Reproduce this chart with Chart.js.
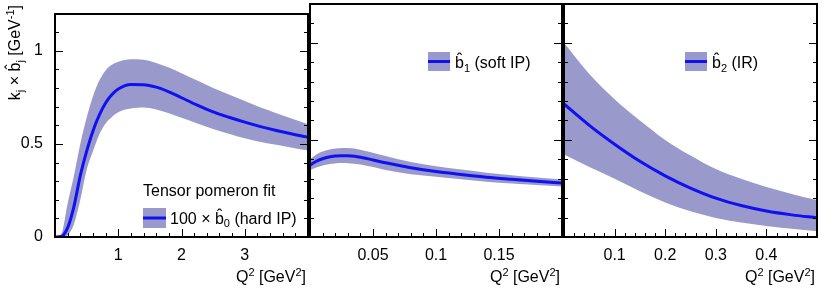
<!DOCTYPE html>
<html>
<head>
<meta charset="utf-8">
<script src="https://cdn.jsdelivr.net/npm/chart.js@4.4.0/dist/chart.umd.min.js"></script>
<style>
  html, body { margin: 0; padding: 0; background: #fff; }
  #wrap { position: relative; width: 822px; height: 289px; }
  #wrap canvas { position: absolute; left: 0; top: 0; }
</style>
</head>
<body>
<div id="wrap">
  <canvas id="c1" width="822" height="289"></canvas>
  <canvas id="c2" width="822" height="289"></canvas>
  <canvas id="c3" width="822" height="289"></canvas>
</div>
<script>
// panel 1: 100 x b0 (hard IP)
const q2Hard = [0, 0.1, 0.2, 0.3, 0.4, 0.5, 0.6, 0.7, 0.8, 0.9, 1.0, 1.2, 1.4, 1.6, 1.8, 2.0, 2.25, 2.5, 2.75, 3.0, 3.25, 3.5, 3.75, 4.0];
const b0Mid = [0, 0.003, 0.05, 0.165, 0.33, 0.46, 0.57, 0.655, 0.72, 0.765, 0.795, 0.819, 0.818, 0.805, 0.78, 0.748, 0.708, 0.672, 0.643, 0.617, 0.593, 0.572, 0.553, 0.536];
const b0Up = [0, 0.015, 0.18, 0.33, 0.5, 0.64, 0.755, 0.84, 0.895, 0.925, 0.942, 0.955, 0.952, 0.935, 0.91, 0.88, 0.84, 0.80, 0.765, 0.73, 0.695, 0.665, 0.635, 0.605];
const b0Low = [0, 0, 0.01, 0.07, 0.2, 0.36, 0.46, 0.55, 0.61, 0.645, 0.67, 0.69, 0.695, 0.685, 0.665, 0.64, 0.61, 0.58, 0.555, 0.53, 0.51, 0.495, 0.48, 0.465];

// panel 2: b1 (soft IP)
const q2Soft = [0, 0.005, 0.01, 0.015, 0.02, 0.025, 0.03, 0.04, 0.05, 0.06, 0.08, 0.1, 0.12, 0.14, 0.16, 0.18, 0.2];
const b1Mid = [0.37, 0.39, 0.403, 0.412, 0.417, 0.419, 0.418, 0.411, 0.397, 0.382, 0.357, 0.337, 0.322, 0.308, 0.297, 0.287, 0.278];
const b1Up = [0.40, 0.425, 0.44, 0.45, 0.456, 0.459, 0.458, 0.45, 0.434, 0.417, 0.386, 0.364, 0.347, 0.331, 0.318, 0.306, 0.296];
const b1Low = [0.345, 0.358, 0.368, 0.375, 0.379, 0.381, 0.38, 0.374, 0.36, 0.345, 0.323, 0.31, 0.297, 0.285, 0.276, 0.268, 0.26];

// panel 3: b2 (IR)
const q2IR = [0, 0.05, 0.1, 0.15, 0.2, 0.25, 0.3, 0.35, 0.4, 0.45, 0.5];
const b2Mid = [0.685, 0.575, 0.478, 0.39, 0.315, 0.252, 0.2, 0.162, 0.134, 0.114, 0.099];
const b2Up = [1.0, 0.84, 0.71, 0.6, 0.5, 0.42, 0.35, 0.3, 0.257, 0.222, 0.19];
const b2Low = [0.425, 0.36, 0.3, 0.235, 0.178, 0.132, 0.098, 0.075, 0.057, 0.042, 0.03];

// tick labels
const yTicks = [0, 0.5, 1];
const xTicksHard = [1, 2, 3];
const xTicksSoft = [0.05, 0.1, 0.15];
const xTicksIR = [0.1, 0.2, 0.3, 0.4];

const FONT = '"Liberation Sans", Arial, Helvetica, sans-serif';
const BAND = 'rgb(153,153,204)';
const LINE = 'rgb(16,16,240)';
const HAT_B = 'b\u0302';

function pts(xs, ys) {
    return xs.map((x, i) => ({ x: x, y: ys[i] }));
}

// text with sub/superscripts
function drawRich(ctx, parts, x, y, size, align) {
    const small = Math.round(size * 0.68);
    let w = 0;
    parts.forEach(p => {
        ctx.font = ((p.sub || p.sup) ? small : size) + 'px ' + FONT;
        w += ctx.measureText(p.t).width;
    });
    let cx = align === 'right' ? x - w : x;
    parts.forEach(p => {
        ctx.font = ((p.sub || p.sup) ? small : size) + 'px ' + FONT;
        const dy = p.sub ? size * 0.22 : (p.sup ? -size * 0.4 : 0);
        ctx.fillText(p.t, cx, y + dy);
        cx += ctx.measureText(p.t).width;
    });
}

const framePlugin = {
    id: 'frame',
    afterDatasetsDraw(chart, args, opts) {
        const ctx = chart.ctx;
        const xs = chart.scales.x, ys = chart.scales.y;
        const L = Math.round(xs.getPixelForValue(xs.min)), R = Math.round(xs.getPixelForValue(xs.max));
        const T = Math.round(ys.getPixelForValue(ys.max)), B = Math.round(ys.getPixelForValue(ys.min));
        ctx.save();
        ctx.setLineDash([]);
        ctx.strokeStyle = '#000';
        ctx.lineWidth = 1;
        ctx.beginPath();
        // y ticks on both sides, pointing inward
        const ny = Math.round((ys.max - ys.min) / 0.1);
        for (let i = 0; i <= ny; i++) {
            const len = i % 5 === 0 ? 8 : 4;
            const py = Math.round(ys.getPixelForValue(ys.min + i * 0.1)) + 0.5;
            ctx.moveTo(L, py); ctx.lineTo(L + len, py);
            ctx.moveTo(R, py); ctx.lineTo(R - len, py);
        }
        // x ticks at the bottom
        const nx = Math.round((xs.max - xs.min) / opts.minor);
        for (let i = 0; i <= nx; i++) {
            const len = i % opts.per === 0 ? 8 : 4;
            const px = Math.round(xs.getPixelForValue(xs.min + i * opts.minor)) + 0.5;
            ctx.moveTo(px, B); ctx.lineTo(px, B - len);
        }
        // frame, two 1px strokes per side
        for (let k = 0; k < 2; k++) {
            ctx.moveTo(L - 1, T - 0.5 + k); ctx.lineTo(R + 1, T - 0.5 + k);
            ctx.moveTo(L - 1, B - 0.5 + k); ctx.lineTo(R + 1, B - 0.5 + k);
            ctx.moveTo(L - 0.5 + k, T - 1); ctx.lineTo(L - 0.5 + k, B + 1);
            ctx.moveTo(R - 0.5 + k, T - 1); ctx.lineTo(R - 0.5 + k, B + 1);
        }
        ctx.stroke();

        // legend
        const lg = opts.legend;
        ctx.fillStyle = BAND;
        ctx.fillRect(lg.box[0], lg.box[1], lg.box[2], lg.box[3]);
        ctx.strokeStyle = LINE;
        ctx.lineWidth = 3;
        ctx.beginPath();
        const ly = lg.box[1] + lg.box[3] / 2;
        ctx.moveTo(lg.box[0], ly); ctx.lineTo(lg.box[0] + lg.box[2], ly);
        ctx.stroke();
        ctx.fillStyle = '#000';
        ctx.textBaseline = 'alphabetic';
        ctx.textAlign = 'left';
        if (lg.header) {
            ctx.font = '16px ' + FONT;
            ctx.fillText(lg.header, lg.header_x, lg.header_y);
        }
        drawRich(ctx, lg.parts, lg.tx, lg.ty, 16, 'left');

        // x title
        drawRich(ctx, [{ t: 'Q' }, { t: '2', sup: true }, { t: ' [GeV' }, { t: '2', sup: true }, { t: ']' }], R - 2, 282, 16, 'right');

        // y title on the first panel
        if (opts.yTitle) {
            ctx.translate(20, 5);
            ctx.rotate(-Math.PI / 2);
            drawRich(ctx, [
                { t: 'k' }, { t: 'j', sub: true }, { t: ' \u00d7 ' + HAT_B }, { t: 'j', sub: true },
                { t: ' [GeV' }, { t: '-1', sup: true }, { t: ']' }
            ], 0, 0, 16, 'right');
        }
        ctx.restore();
    }
};

function makePanel(id, p) {
    return new Chart(document.getElementById(id), {
        type: 'line',
        data: {
            datasets: [
                { data: pts(p.xs, p.mid), order: 0, borderColor: LINE, borderWidth: 3, pointRadius: 0, fill: false, cubicInterpolationMode: 'monotone' },
                { data: pts(p.xs, p.up), order: 1, borderWidth: 0, pointRadius: 0, backgroundColor: BAND, fill: '+1', cubicInterpolationMode: 'monotone' },
                { data: pts(p.xs, p.low), order: 2, borderWidth: 0, pointRadius: 0, fill: false, cubicInterpolationMode: 'monotone' }
            ]
        },
        options: {
            responsive: false,
            animation: false,
            events: [],
            layout: { padding: { left: p.padLeft, right: 822 - p.right, top: 4, bottom: 0 } },
            plugins: {
                legend: { display: false },
                tooltip: { enabled: false },
                frame: { minor: p.minor, per: p.per, legend: p.legend, yTitle: p.showY }
            },
            scales: {
                x: {
                    type: 'linear',
                    min: p.xMin,
                    max: p.xMax,
                    afterFit: s => { s.height = 52; },
                    afterBuildTicks: s => { s.ticks = p.xTicks.map(v => ({ value: v })); },
                    grid: { display: false },
                    border: { display: false },
                    ticks: { font: { family: FONT, size: 16 }, color: '#000', padding: 1, maxRotation: 0, autoSkip: false, callback: v => String(v) }
                },
                y: {
                    display: p.showY,
                    min: 0,
                    max: 1.2,
                    afterFit: s => { s.width = p.showY ? 55 : 0; },
                    afterBuildTicks: s => { s.ticks = yTicks.map(v => ({ value: v })); },
                    grid: { display: false },
                    border: { display: false },
                    ticks: { font: { family: FONT, size: 16 }, color: '#000', padding: 4, callback: v => String(v) }
                }
            }
        },
        plugins: [framePlugin]
    });
}

makePanel('c1', {
    xs: q2Hard, mid: b0Mid, up: b0Up, low: b0Low,
    xMin: 0, xMax: 4, xTicks: xTicksHard, minor: 0.2, per: 5,
    padLeft: 0, right: 308, showY: true,
    legend: {
        box: [143, 208, 23, 20], header: 'Tensor pomeron fit', header_x: 143, header_y: 196,
        parts: [{ t: '100 \u00d7 ' + HAT_B }, { t: '0', sub: true }, { t: ' (hard IP)' }], tx: 170, ty: 223.5
    }
});

makePanel('c2', {
    xs: q2Soft, mid: b1Mid, up: b1Up, low: b1Low,
    xMin: 0, xMax: 0.2, xTicks: xTicksSoft, minor: 0.01, per: 5,
    padLeft: 310, right: 562, showY: false,
    legend: {
        box: [428, 52, 22, 19],
        parts: [{ t: HAT_B }, { t: '1', sub: true }, { t: ' (soft IP)' }], tx: 455, ty: 68
    }
});

makePanel('c3', {
    xs: q2IR, mid: b2Mid, up: b2Up, low: b2Low,
    xMin: 0, xMax: 0.5, xTicks: xTicksIR, minor: 0.02, per: 5,
    padLeft: 564, right: 817, showY: false,
    legend: {
        box: [685, 52, 22, 19],
        parts: [{ t: HAT_B }, { t: '2', sub: true }, { t: ' (IR)' }], tx: 712, ty: 68
    }
});
</script>
</body>
</html>
